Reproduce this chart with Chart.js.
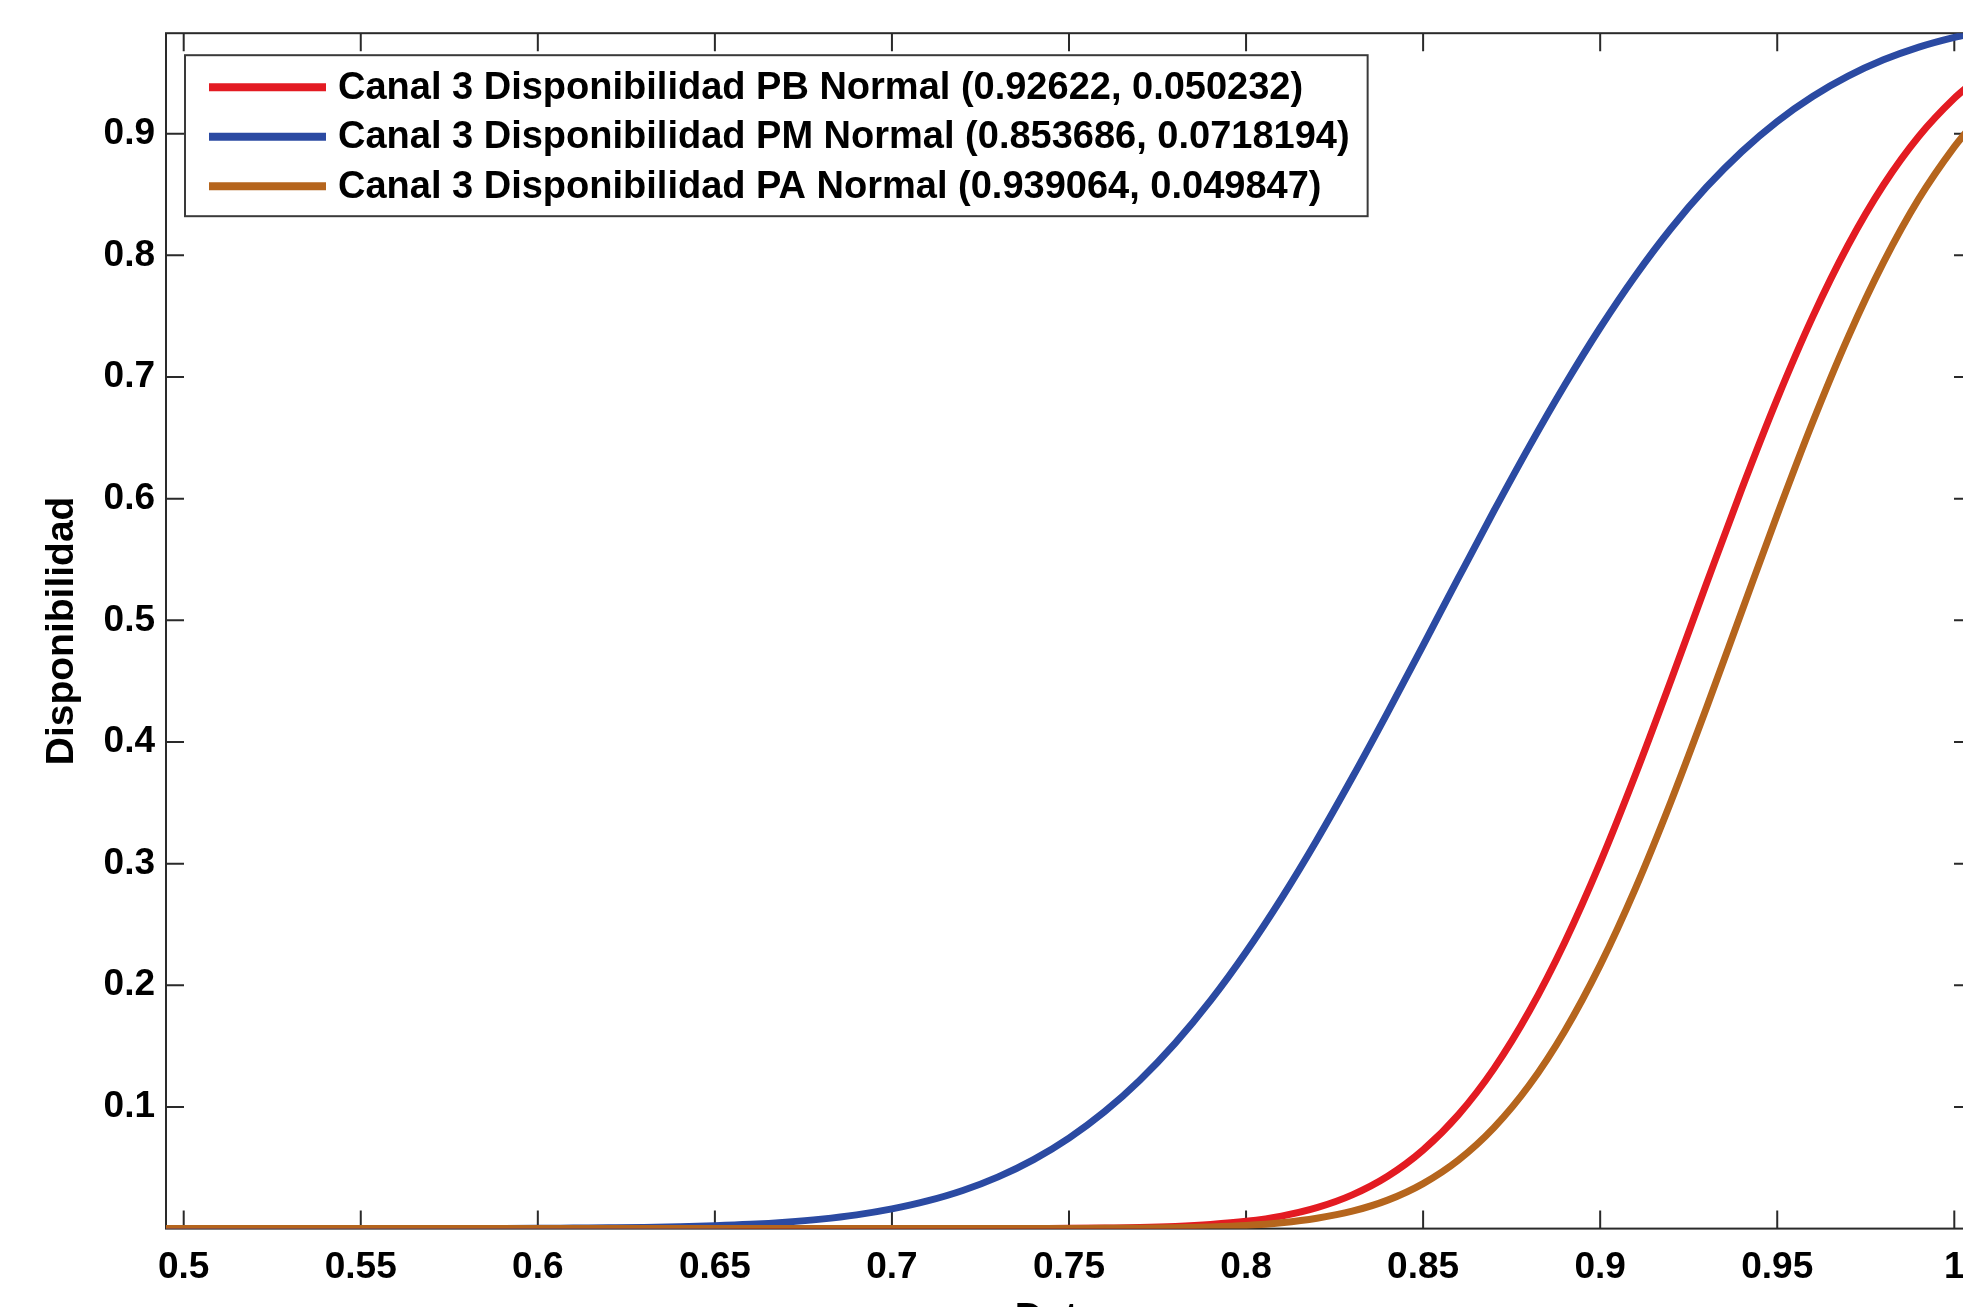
<!DOCTYPE html>
<html>
<head>
<meta charset="utf-8">
<title>Canal 3 Disponibilidad</title>
<script src="https://cdn.jsdelivr.net/npm/chart.js@4.4.1/dist/chart.umd.min.js"></script>
<style>
html, body { margin: 0; padding: 0; background: #fff; overflow: hidden; }
#wrap { position: absolute; left: 0; top: 0; }
</style>
</head>
<body>
<div id="wrap"><canvas id="cdf" width="1990" height="1346"></canvas></div>
<script>
const datos = [0.495, 0.50, 0.51, 0.52, 0.53, 0.54, 0.55, 0.56, 0.57, 0.58, 0.59,
	0.60, 0.61, 0.62, 0.63, 0.64, 0.65, 0.66, 0.67, 0.68, 0.69,
	0.70, 0.71, 0.72, 0.73, 0.74, 0.75, 0.76, 0.77, 0.78, 0.79,
	0.80, 0.81, 0.82, 0.83, 0.84, 0.85, 0.86, 0.87, 0.88, 0.89,
	0.90, 0.91, 0.92, 0.93, 0.94, 0.95, 0.96, 0.97, 0.98, 0.99, 1.00, 1.005];

const dispPB = [0, 0, 0, 0, 0, 0, 0, 0, 0, 0, 0,
	0, 0, 0, 0, 0, 0, 0, 0, 0, 0,
	0, 0, 0, 0, 0.0001, 0.0002, 0.0005, 0.0009, 0.0018, 0.0034,
	0.0060, 0.0103, 0.0172, 0.0277, 0.0430, 0.0646, 0.0937, 0.1315, 0.1788, 0.2354,
	0.3008, 0.3734, 0.4507, 0.5300, 0.6081, 0.6820, 0.7494, 0.8083, 0.8578, 0.8979, 0.9291, 0.9416];

const dispPM = [0, 0, 0, 0, 0, 0, 0, 0, 0, 0.0001, 0.0001,
	0.0002, 0.0004, 0.0006, 0.0009, 0.0015, 0.0023, 0.0035, 0.0053, 0.0078, 0.0113,
	0.0162, 0.0227, 0.0313, 0.0425, 0.0567, 0.0744, 0.0960, 0.1220, 0.1525, 0.1876,
	0.2274, 0.2715, 0.3195, 0.3708, 0.4244, 0.4795, 0.5350, 0.5899, 0.6430, 0.6934,
	0.7405, 0.7835, 0.8221, 0.8560, 0.8853, 0.9101, 0.9306, 0.9473, 0.9607, 0.9712, 0.9792, 0.9824];

const dispPA = [0, 0, 0, 0, 0, 0, 0, 0, 0, 0, 0,
	0, 0, 0, 0, 0, 0, 0, 0, 0, 0,
	0, 0, 0, 0, 0, 0.0001, 0.0002, 0.0003, 0.0007, 0.0014,
	0.0026, 0.0048, 0.0085, 0.0143, 0.0234, 0.0370, 0.0564, 0.0830, 0.1180, 0.1625,
	0.2166, 0.2799, 0.3511, 0.4279, 0.5075, 0.5868, 0.6628, 0.7326, 0.7942, 0.8466, 0.8892, 0.9071];

const etiquetas = [
	"Canal 3 Disponibilidad PB Normal (0.92622, 0.050232)",
	"Canal 3 Disponibilidad PM Normal (0.853686, 0.0718194)",
	"Canal 3 Disponibilidad PA Normal (0.939064, 0.049847)"
];

const xTicks = [0.5, 0.55, 0.6, 0.65, 0.7, 0.75, 0.8, 0.85, 0.9, 0.95, 1];
const yTicks = [0.1, 0.2, 0.3, 0.4, 0.5, 0.6, 0.7, 0.8, 0.9];

const FAMILIA = "'Liberation Sans', Arial, Helvetica, sans-serif";
const TICK = 18;

function puntos(ys) {
	return datos.map((x, i) => ({x: x, y: ys[i]}));
}

// caja tipo matlab con marcas hacia dentro
const cajaEjes = {
	id: 'cajaEjes',
	beforeDatasetsDraw(chart) {
		const {ctx, chartArea: a, scales} = chart;
		ctx.save();
		ctx.strokeStyle = '#2a2a2a';
		ctx.lineWidth = 2;
		ctx.strokeRect(a.left, a.top, a.right - a.left, a.bottom - a.top);
		ctx.beginPath();
		scales.x.ticks.forEach(t => {
			const px = scales.x.getPixelForValue(t.value);
			ctx.moveTo(px, a.bottom); ctx.lineTo(px, a.bottom - TICK);
			ctx.moveTo(px, a.top); ctx.lineTo(px, a.top + TICK);
		});
		scales.y.ticks.forEach(t => {
			const py = scales.y.getPixelForValue(t.value);
			ctx.moveTo(a.left, py); ctx.lineTo(a.left + TICK, py);
			ctx.moveTo(a.right, py); ctx.lineTo(a.right - TICK, py);
		});
		ctx.stroke();
		ctx.restore();
	}
};

// leyenda dentro del area, arriba a la izquierda, con marco
const leyendaCaja = {
	id: 'leyendaCaja',
	afterDatasetsDraw(chart) {
		const {ctx, chartArea: a} = chart;
		const sets = chart.data.datasets;
		const left = a.left + 19, top = a.top + 22;
		const fila = 49.5;
		ctx.save();
		ctx.font = "bold 38px " + FAMILIA;
		let maxW = 0;
		sets.forEach(d => { maxW = Math.max(maxW, ctx.measureText(d.label).width); });
		const w = 153 + maxW + 18, h = 161;
		ctx.fillStyle = '#fff';
		ctx.fillRect(left, top, w, h);
		ctx.strokeStyle = '#3a3a3a';
		ctx.lineWidth = 2;
		ctx.strokeRect(left, top, w, h);
		ctx.textBaseline = 'middle';
		ctx.textAlign = 'left';
		sets.forEach((d, i) => {
			const yy = top + 32 + i * fila;
			ctx.strokeStyle = d.borderColor;
			ctx.lineWidth = 8;
			ctx.beginPath();
			ctx.moveTo(left + 24, yy);
			ctx.lineTo(left + 141, yy);
			ctx.stroke();
			ctx.fillStyle = '#000';
			ctx.fillText(d.label, left + 153, yy + 1);
		});
		ctx.restore();
	}
};

new Chart("cdf", {
	type: "line",
	data: {
		datasets: [
			{label: etiquetas[0], data: puntos(dispPB), borderColor: "#e31b22", order: 2},
			{label: etiquetas[1], data: puntos(dispPM), borderColor: "#2b4aa2", order: 1},
			{label: etiquetas[2], data: puntos(dispPA), borderColor: "#b5651d", order: 0}
		]
	},
	options: {
		responsive: false,
		animation: false,
		layout: {padding: {top: 31, right: 18, left: 0, bottom: 0}},
		elements: {
			point: {radius: 0},
			line: {borderWidth: 7, cubicInterpolationMode: 'monotone', fill: false, borderCapStyle: 'round', borderJoinStyle: 'round'}
		},
		plugins: {
			legend: {display: false},
			tooltip: {enabled: false}
		},
		scales: {
			x: {
				type: 'linear',
				min: 0.495,
				max: 1.005,
				grid: {display: false, drawTicks: false},
				border: {display: false},
				afterBuildTicks: s => { s.ticks = xTicks.map(v => ({value: v})); },
				afterFit: s => { s.height = 117.4; },
				ticks: {
					padding: 17,
					autoSkip: false,
					maxRotation: 0,
					color: '#000',
					font: {family: FAMILIA, size: 37, weight: 'bold'},
					callback: v => String(v)
				},
				title: {
					display: true,
					text: 'Datos',
					color: '#000',
					font: {family: FAMILIA, size: 39, weight: 'bold'},
					padding: {top: 0, bottom: 3}
				}
			},
			y: {
				min: 0,
				max: 0.9826,
				grid: {display: false, drawTicks: false},
				border: {display: false},
				afterBuildTicks: s => { s.ticks = yTicks.map(v => ({value: v})); },
				afterFit: s => { s.width = 166; },
				ticks: {
					padding: 11,
					autoSkip: false,
					color: '#000',
					font: {family: FAMILIA, size: 37, weight: 'bold'},
					callback: v => String(v)
				},
				title: {
					display: true,
					text: 'Disponibilidad',
					color: '#000',
					font: {family: FAMILIA, size: 39, weight: 'bold'},
					padding: {top: 39, bottom: 0}
				}
			}
		}
	},
	plugins: [cajaEjes, leyendaCaja]
});
</script>
</body>
</html>
